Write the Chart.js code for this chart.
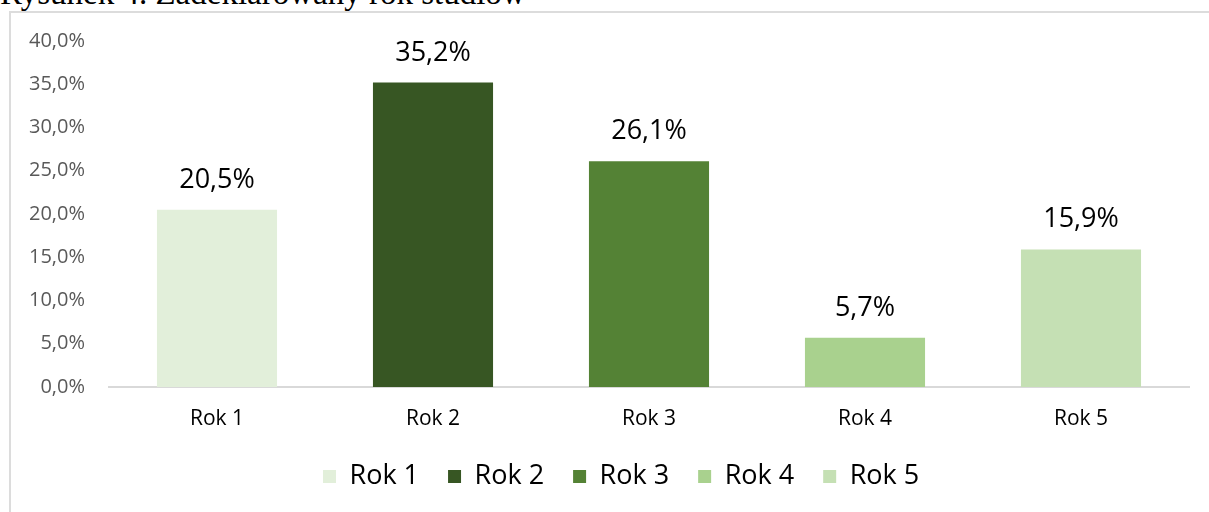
<!DOCTYPE html>
<html lang="pl">
<head>
  <meta charset="UTF-8" />
  <title>Rysunek 4. Zadeklarowany rok studiów</title>
  <script src="https://cdn.jsdelivr.net/npm/chart.js"></script>
  <style>
    html, body { margin: 0; padding: 0; background: #fff; }
    body { width: 1209px; height: 512px; position: relative; overflow: hidden; }
    #title {
      position: absolute; left: 0; top: -25px;
      font-family: "Liberation Serif", "Times New Roman", serif;
      font-size: 33px; line-height: 36px; color: #000; white-space: nowrap;
    }
    #box {
      position: absolute; left: 9px; top: 11px; width: 1300px; height: 600px;
      border: 2px solid #dcdcdc; box-sizing: border-box;
    }
    #wrap { position: absolute; left: 0; top: 0; width: 1209px; height: 512px; }
  </style>
</head>
<body>
  <div id="title">Rysunek 4. Zadeklarowany rok studiów</div>
  <div id="box"></div>
  <div id="wrap"><canvas id="yearChart"></canvas></div>
  <script>
    const categories = ["Rok 1", "Rok 2", "Rok 3", "Rok 4", "Rok 5"];
    const shares = [20.5, 35.2, 26.1, 5.7, 15.9];
    const barColors = ["#E2EFDA", "#375623", "#548235", "#A9D18E", "#C5E0B4"];
    const yTicks = [0, 5, 10, 15, 20, 25, 30, 35, 40];

    const fmt = v => v.toFixed(1).replace(".", ",") + "%";

    // value labels above bars
    const valueLabels = {
      id: "valueLabels",
      afterDatasetsDraw(chart) {
        const ctx = chart.ctx;
        const meta = chart.getDatasetMeta(0);
        ctx.save();
        ctx.font = "27px 'Open Sans'";
        ctx.fillStyle = "#000";
        ctx.textAlign = "center";
        ctx.textBaseline = "alphabetic";
        meta.data.forEach((bar, i) => {
          ctx.fillText(fmt(shares[i]), bar.x, bar.y - 22);
        });
        ctx.restore();
      }
    };

    // legend in the reference is not centred on the canvas, nudge it
    const legendShift = {
      id: "legendShift",
      afterLayout(chart) {
        const lg = chart.legend;
        if (!lg || !lg.lineWidths) return;
        const p = lg.options.labels.padding;
        const start = (lg.left + p + lg.right - lg.lineWidths[0]) / 2;
        const d = 323 - start;
        lg.left += d;
        lg.right += d;
      }
    };

    new Chart(document.getElementById("yearChart"), {
      type: "bar",
      data: {
        labels: categories,
        datasets: [{
          data: shares,
          backgroundColor: barColors,
          barPercentage: 0.556,
          categoryPercentage: 1
        }]
      },
      options: {
        responsive: true,
        maintainAspectRatio: false,
        animation: false,
        layout: { padding: { top: 41, left: 9, right: 20, bottom: 12 } },
        scales: {
          x: {
            grid: { display: false, drawTicks: false },
            border: { color: "#d9d9d9", width: 2 },
            ticks: { color: "#000", font: { family: "Open Sans", size: 21 }, padding: 19 },
            afterFit(scale) { scale.height = 47; }
          },
          y: {
            min: 0, max: 40,
            afterBuildTicks(scale) { scale.ticks = yTicks.map(v => ({ value: v })); },
            grid: { display: false, drawTicks: false },
            border: { display: false },
            ticks: { color: "#595959", font: { family: "Open Sans", size: 20 }, padding: 24,
                     callback: v => fmt(v) },
            afterFit(scale) { scale.width = 100; }
          }
        },
        plugins: {
          tooltip: { enabled: false },
          legend: {
            position: "bottom",
            labels: {
              color: "#595959",
              font: { family: "Open Sans", size: 27 },
              boxWidth: 13, boxHeight: 13, padding: 29,
              generateLabels: () => categories.map((c, i) => ({
                text: c, fillStyle: barColors[i], strokeStyle: barColors[i], lineWidth: 0, index: i
              }))
            }
          }
        }
      },
      plugins: [valueLabels, legendShift]
    });
  </script>
</body>
</html>
